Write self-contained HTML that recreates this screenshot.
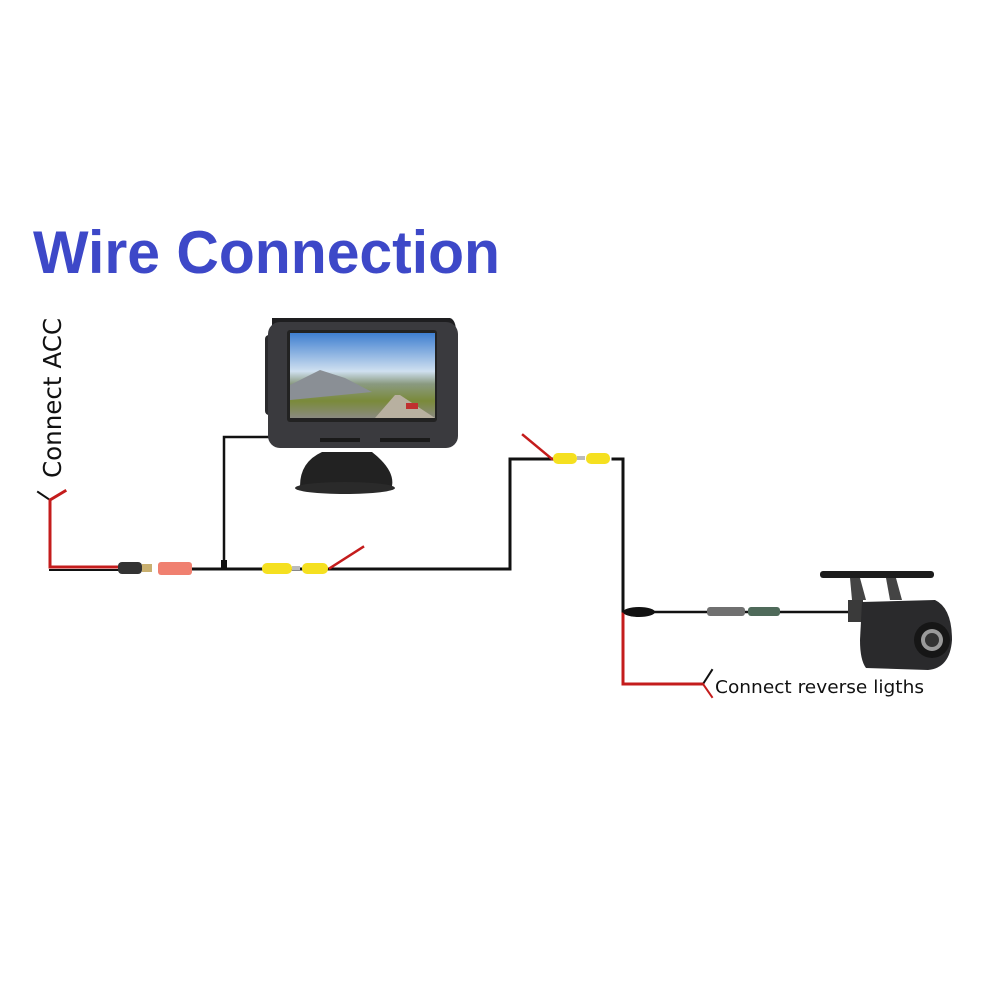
<!DOCTYPE html>
<html><head><meta charset="utf-8"><style>
html,body{margin:0;padding:0;background:#fff;width:1000px;height:1000px;overflow:hidden}
svg{display:block}
</style></head><body>
<svg width="1000" height="1000" viewBox="0 0 1000 1000" xmlns="http://www.w3.org/2000/svg">
<defs>
<linearGradient id="sky" x1="0" y1="0" x2="0" y2="1">
<stop offset="0" stop-color="#3f7fd0"/><stop offset="0.45" stop-color="#cfe0f0"/><stop offset="0.6" stop-color="#8a9a80"/><stop offset="0.8" stop-color="#7a8a3a"/><stop offset="1" stop-color="#8a8a80"/>
</linearGradient>
</defs>
<text x="33" y="273" font-family="Liberation Sans, sans-serif" font-weight="bold" font-size="60" fill="#3d48c8" textLength="467" lengthAdjust="spacingAndGlyphs">Wire Connection</text>
<text transform="translate(61,478) rotate(-90)" font-family="DejaVu Sans, Liberation Sans, sans-serif" font-size="25" fill="#111" textLength="160" lengthAdjust="spacingAndGlyphs">Connect ACC</text>
<text x="715" y="693" font-family="DejaVu Sans, Liberation Sans, sans-serif" font-size="18" fill="#111" textLength="209" lengthAdjust="spacingAndGlyphs">Connect reverse ligths</text>

<g fill="none" stroke-linecap="square">
<!-- ACC -->
<polyline points="38,492 50,500" stroke="#111" stroke-width="2"/>
<polyline points="65,491 50,500 50,567 118,567" stroke="#c41c1c" stroke-width="3"/>
<line x1="50" y1="570" x2="118" y2="570" stroke="#111" stroke-width="2"/>
<line x1="192" y1="569" x2="510" y2="569" stroke="#111" stroke-width="3"/>
<polyline points="224,568 224,437 275,437" stroke="#111" stroke-width="2.5"/>
<line x1="330" y1="568" x2="363" y2="547" stroke="#c41c1c" stroke-width="2.5"/>
<polyline points="510,569 510,459 553,459" stroke="#111" stroke-width="3"/>
<line x1="523" y1="435" x2="552" y2="459" stroke="#c41c1c" stroke-width="2.5"/>
<polyline points="613,459 623,459 623,612" stroke="#111" stroke-width="3"/>
<line x1="655" y1="612" x2="850" y2="612" stroke="#111" stroke-width="2.5"/>
<polyline points="623,614 623,684 703,684" stroke="#c41c1c" stroke-width="3"/>
<line x1="703" y1="684" x2="712" y2="670" stroke="#111" stroke-width="2"/>
<line x1="703" y1="684" x2="712" y2="697" stroke="#c41c1c" stroke-width="2"/>
</g>
<!-- connectors -->
<rect x="118" y="562" width="24" height="12" rx="4" fill="#333"/>
<rect x="142" y="564" width="10" height="8" fill="#c9b070"/>
<rect x="158" y="562" width="34" height="13" rx="3" fill="#f08070"/>
<rect x="221" y="560" width="6" height="10" fill="#111"/>
<rect x="262" y="563" width="30" height="11" rx="5" fill="#f5e020"/>
<rect x="292" y="566" width="8" height="4" fill="#bbb"/>
<rect x="302" y="563" width="26" height="11" rx="5" fill="#f5e020"/>
<rect x="553" y="453" width="24" height="11" rx="5" fill="#f5e020"/>
<rect x="577" y="456" width="8" height="4" fill="#bbb"/>
<rect x="586" y="453" width="24" height="11" rx="5" fill="#f5e020"/>
<ellipse cx="639" cy="612" rx="16" ry="5" fill="#111"/>
<rect x="707" y="607" width="38" height="9" rx="3" fill="#707070"/>
<rect x="748" y="607" width="32" height="9" rx="3" fill="#4f6a5a"/>
<!-- monitor -->
<rect x="265" y="335" width="12" height="80" rx="4" fill="#2a2a2c"/>
<path d="M272,318 L450,318 Q456,320 456,332 L452,348 L272,348 Z" fill="#1e1e20"/>
<rect x="268" y="322" width="190" height="126" rx="12" fill="#3a3a3e"/>
<rect x="287" y="330" width="150" height="92" rx="3" fill="#222"/>
<rect x="290" y="333" width="145" height="85" fill="url(#sky)"/>
<polygon points="290,385 320,370 345,378 372,392 290,400" fill="#8a8f95"/>
<polygon points="375,418 395,395 400,395 435,418" fill="#b8b0a0"/>
<rect x="406" y="403" width="12" height="6" fill="#c03030"/>
<rect x="320" y="438" width="40" height="4" fill="#1a1a1a"/>
<rect x="380" y="438" width="50" height="4" fill="#1a1a1a"/>
<path d="M322,452 L372,452 Q395,470 392,486 L300,486 Q300,462 322,452 Z" fill="#222"/>
<ellipse cx="345" cy="488" rx="50" ry="6" fill="#2a2a2a"/>
<!-- camera -->
<rect x="820" y="571" width="114" height="7" rx="3" fill="#1c1c1c"/>
<polygon points="850,578 860,578 866,600 852,600" fill="#444"/>
<polygon points="886,578 896,578 902,600 890,600" fill="#444"/>
<rect x="848" y="600" width="15" height="22" fill="#3a3a3a"/>
<path d="M862,602 L935,600 Q952,608 952,640 Q950,668 928,670 L866,668 Q860,660 860,640 Z" fill="#2a2a2c"/>
<circle cx="932" cy="640" r="18" fill="#161616"/>
<circle cx="932" cy="640" r="11" fill="#9a9a9a"/>
<circle cx="932" cy="640" r="7" fill="#333"/>
</svg>
</body></html>
